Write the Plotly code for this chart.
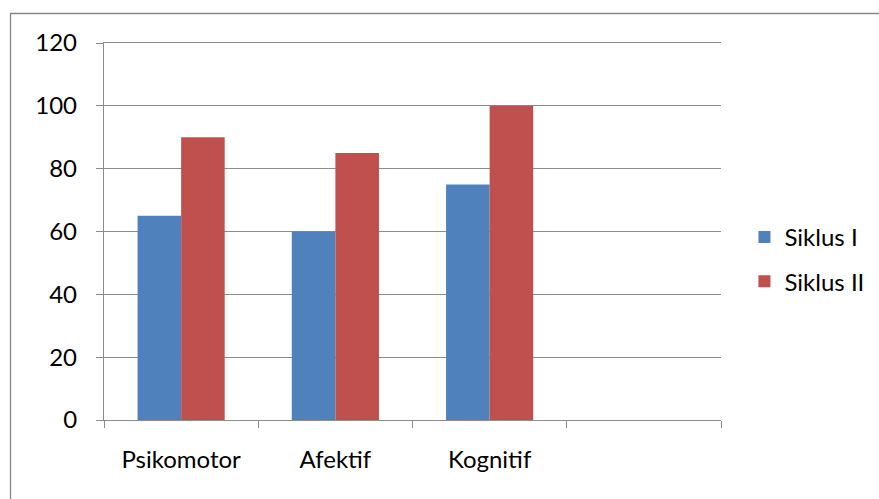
import plotly.graph_objects as go

# Chart data
categories = ["Psikomotor", "Afektif", "Kognitif", " "]
siklus_1 = [65, 60, 75]
siklus_2 = [90, 85, 100]
series_names = ["Siklus I", "Siklus II"]
y_ticks = [0, 20, 40, 60, 80, 100, 120]

FONT = "Lato, Calibri, Carlito, sans-serif"
GRID = "#8c8c8c"

fig = go.Figure()
fig.add_bar(x=categories[:3], y=siklus_1, name=series_names[0], legendgroup="s1",
            marker=dict(color="#4F81BD", line=dict(width=0)))
fig.add_bar(x=categories[:3], y=siklus_2, name=series_names[1], legendgroup="s2",
            marker=dict(color="#C0504D", line=dict(width=0)))

W, H = 879, 499
L, R, T, B = 104, 158, 43, 79
pw, ph = W - L - R, H - T - B

fig.update_layout(
    width=W, height=H,
    margin=dict(l=L, r=R, t=T, b=B, autoexpand=False),
    paper_bgcolor="white", plot_bgcolor="white",
    barmode="group", bargap=0.435, bargroupgap=0,
    font=dict(family=FONT, size=24, color="#000000"),
    # legend sits just right of the plot area, entries spaced apart
    legend=dict(x=1.038, y=0.426, xanchor="left", yanchor="middle",
                font=dict(size=24), itemwidth=30, traceorder="grouped",
                tracegroupgap=10, bgcolor="rgba(0,0,0,0)"),
    xaxis=dict(type="category", categoryorder="array", categoryarray=categories,
               range=[-0.5, 3.5], tickson="boundaries", ticks="outside",
               ticklen=7, tickcolor=GRID, tickwidth=1.3,
               showline=True, mirror=True, linecolor=GRID, linewidth=1.3,
               showgrid=False, ticklabelstandoff=18,
               tickfont=dict(size=24)),
    yaxis=dict(range=[0, 120], tickvals=y_ticks, ticks="outside", ticklen=7,
               tickcolor=GRID, tickwidth=1.3, showline=True, linecolor=GRID,
               linewidth=1.3, showgrid=True, gridcolor=GRID, gridwidth=1.3,
               zeroline=False, ticklabelstandoff=14, tickfont=dict(size=24)),
    # chart frame, running off the right and bottom edges of the page
    shapes=[dict(type="rect", xref="paper", yref="paper",
                 x0=(10.5 - L) / pw, x1=(W + 20 - L) / pw,
                 y0=-(B + 20) / ph, y1=(H - B - 13.5) / ph,
                 line=dict(color="#868686", width=1.3), layer="below")],
)

fig.write_html("out.html")
